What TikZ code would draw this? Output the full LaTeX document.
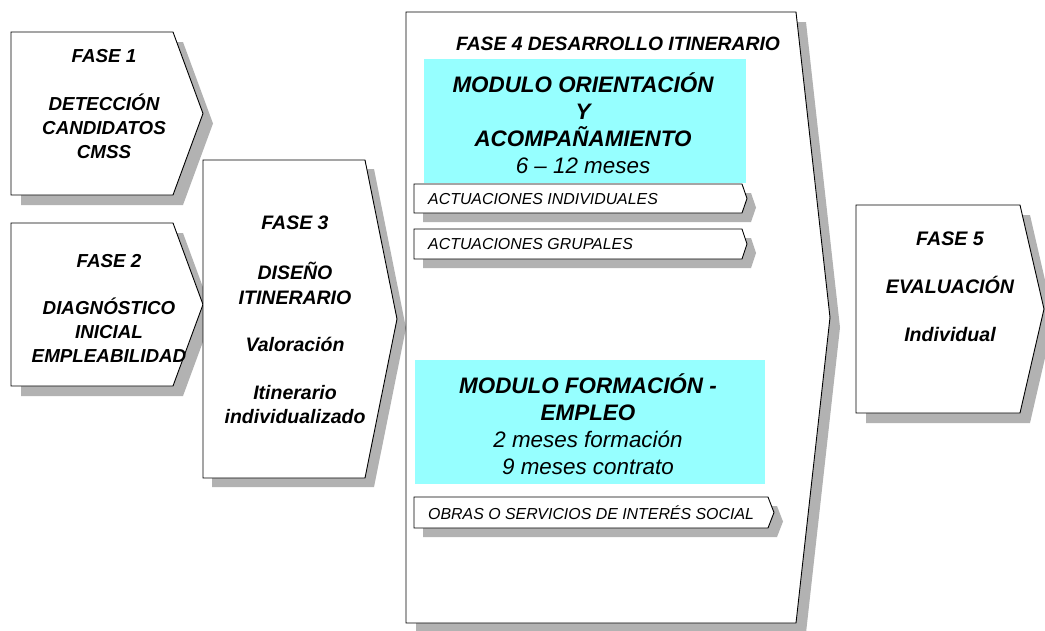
\documentclass[tikz,border=0pt]{standalone}
\usepackage{fontspec}
\setmainfont{Liberation Sans}
\definecolor{shadowgray}{RGB}{178,178,178}
\definecolor{modcyan}{RGB}{150,255,255}
\tikzset{
  boxline/.style={draw=black,line width=0.9pt,fill=white,line join=miter},
  shade/.style={fill=shadowgray},
  fasetext/.style={align=center,inner sep=0pt,font=\bfseries\itshape\fontsize{18.8}{24}\selectfont},
  modtext/.style={align=center,inner sep=0pt,font=\itshape\fontsize{22.4}{27}\selectfont},
  acttext/.style={anchor=west,inner sep=0pt,font=\itshape\fontsize{15.9}{18}\selectfont},
}
\newcommand\penta[6]{% left, top, rightx, tipx, bottom, shadow offset
  \fill[shade,shift={(#6,#6)}] (#1,#2) -- (#3,#2) -- (#4,{(#2+#5)/2}) -- (#3,#5) -- (#1,#5) -- cycle;
  \path[boxline] (#1,#2) -- (#3,#2) -- (#4,{(#2+#5)/2}) -- (#3,#5) -- (#1,#5) -- cycle;}
\begin{document}
\begin{tikzpicture}[x=1pt,y=-1pt]
\useasboundingbox (0,0) rectangle (1045,630);
\clip (0,0) rectangle (1045,630);
% Fase 1 and 2
\penta{11}{32}{173}{203}{195}{10}
\penta{11}{223}{173}{203}{386}{10}
% Fase 3
\penta{203}{160}{365}{397}{478}{9}
% Fase 4
\penta{406}{12}{796}{830}{623}{10}
% Fase 5
\penta{856}{205}{1020}{1044}{413}{10}

\node[fasetext] (f1) at (104,104) {FASE 1\\[24pt]DETECCIÓN\\CANDIDATOS\\CMSS};
\node[fasetext] (f2) at (109,308) {FASE 2\\[23pt]DIAGNÓSTICO\\INICIAL\\EMPLEABILIDAD};
\node[fasetext,font=\bfseries\itshape\fontsize{19.5}{24.5}\selectfont] (f3) at (295,320) {FASE 3\\[26pt]DISEÑO\\ITINERARIO\\[23pt]Valoración\\[23pt]Itinerario\\individualizado};
\node[fasetext,font=\bfseries\itshape\fontsize{19.3}{24}\selectfont] (f4) at (618,44) {FASE 4 DESARROLLO ITINERARIO};
\node[fasetext,font=\bfseries\itshape\fontsize{19.6}{24}\selectfont] (f5) at (950,287) {FASE 5\\[24pt]EVALUACIÓN\\[24pt]Individual};

% Module 1
\fill[modcyan] (424,59) rectangle (746,183);
\node[modtext] (m1) at (583,123) {\bfseries MODULO ORIENTACIÓN\\\bfseries Y\\\bfseries ACOMPAÑAMIENTO\\6 – 12 meses};
\penta{414}{184}{742}{747}{213}{9}
\node[acttext] (a1) at (428,199) {ACTUACIONES INDIVIDUALES};
\penta{414}{229}{742}{747}{259}{9}
\node[acttext] (a2) at (428,244) {ACTUACIONES GRUPALES};

% Module 2
\fill[modcyan] (415,360) rectangle (765,484);
\node[modtext] (m2) at (588,424) {\bfseries MODULO FORMACIÓN -\\\bfseries EMPLEO\\2 meses formación\\9 meses contrato};
\penta{414}{497}{768}{774}{528}{9}
\node[acttext] (o1) at (428,513) {OBRAS O SERVICIOS DE INTERÉS SOCIAL};
\end{tikzpicture}
\end{document}
